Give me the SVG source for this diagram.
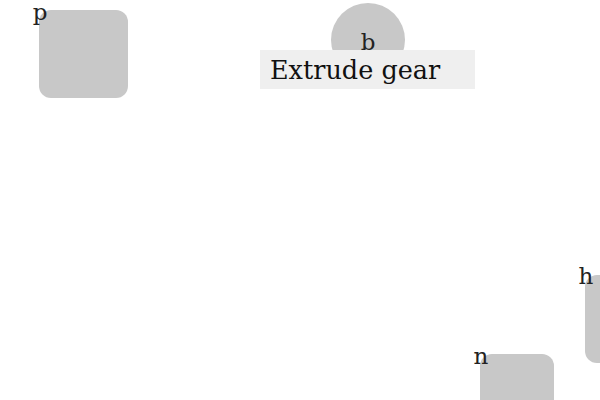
<svg xmlns="http://www.w3.org/2000/svg" width="600" height="400" viewBox="0 0 600 400">
<style>
.node{fill:#c8c8c8}
.lbl{font-family:"DejaVu Serif","Liberation Serif",serif;font-size:23px;fill:#222}
.cap{font-family:"DejaVu Serif","Liberation Serif",serif;font-size:25.5px;fill:#111}
</style>
<rect width="600" height="400" fill="#fff"/>
<g id="connectors"></g>
<g id="p"><rect class="node" x="39" y="10" width="89" height="88" rx="12"/><text class="lbl" x="40" y="20" text-anchor="middle">p</text></g>
<g id="b"><circle class="node" cx="368" cy="40" r="37"/><text class="lbl" x="368" y="50" text-anchor="middle">b</text></g>
<g id="label"><rect x="260" y="50" width="215" height="39" fill="#efefef"/><text class="cap" x="270" y="79">Extrude gear</text></g>
<g id="h"><rect class="node" x="585" y="275" width="40" height="88" rx="12"/><text class="lbl" x="586" y="284" text-anchor="middle">h</text></g>
<g id="n"><rect class="node" x="480" y="354" width="74" height="80" rx="12"/><text class="lbl" x="481" y="364" text-anchor="middle">n</text></g>
</svg>
